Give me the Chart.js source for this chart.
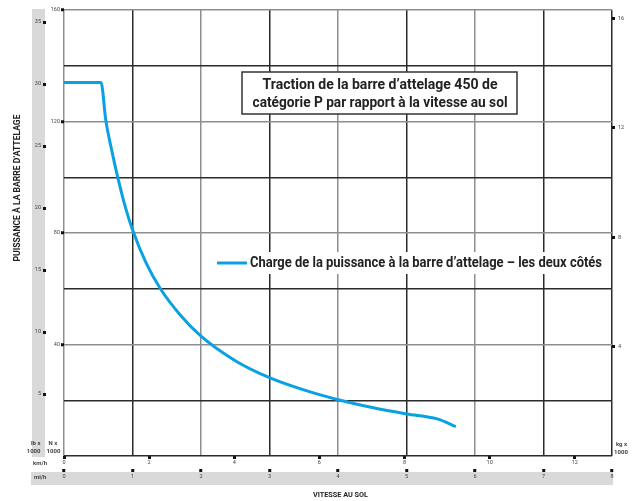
<!DOCTYPE html>
<html>
<head>
<meta charset="utf-8">
<script src="https://cdn.jsdelivr.net/npm/chart.js@4"></script>
<style>
  html, body { margin: 0; padding: 0; background: #fff; }
  canvas { display: block; }
</style>
</head>
<body>
<canvas id="drawbar" width="640" height="501"></canvas>
<script>
// drawbar pull vs ground speed
var speedMph = [0, 0.54, 0.61, 0.7, 0.79, 0.9, 1.0, 1.2, 1.41, 1.7, 2.0, 2.5, 3.0, 3.5, 4.0, 4.5, 5.0, 5.45, 5.72];
var pullKN   = [134, 134, 120.5, 109.3, 99.4, 88.9, 81.2, 69.2, 59.9, 50.5, 43, 34.2, 28.1, 23.7, 20.2, 17.4, 15.1, 13.3, 10.5];

// axis ticks
var mphTicks = [0, 1, 2, 3, 4, 5, 6, 7, 8];
var kmhTicks = [0, 2, 4, 6, 8, 10, 12];
var kNGrid   = [0, 20, 40, 60, 80, 100, 120, 140, 160];
var kNLabels = [40, 80, 120, 160];
var lbsTicks = [5, 10, 15, 20, 25, 30, 35];
var kgTicks  = [4, 8, 12, 16];

var seriesLabel = 'Charge de la puissance à la barre d’attelage – les deux côtés';
var titleLines = ['Traction de la barre d’attelage 450 de', 'catégorie P par rapport à la vitesse au sol'];
var yTitle = 'PUISSANCE À LA BARRE D’ATTELAGE';
var xTitle = 'VITESSE AU SOL';

var blue = '#0aa1e2';
var gridDark = '#2b2b2b', gridGrey = '#8e8e8e', band = '#d9d9d9';
var tickFont = { family: 'Roboto, sans-serif', size: 5.5 };
var tickColor = '#444';

function fixTicks(list) {
    return function (scale) {
        scale.ticks = list.map(function (v) { return { value: v }; });
    };
}
function fixSize(prop, px) {
    return function (scale) { scale[prop] = px; };
}
function sideTicks(pad) {
    return { font: tickFont, color: tickColor, padding: pad, autoSkip: false, maxRotation: 0 };
}
function sideGrid() {
    return { drawOnChartArea: false, tickLength: 3, tickWidth: 3, tickColor: '#111' };
}

// squeeze text into the width it takes in the reference (condensed face there)
function fitText(ctx, text, cx, cy, width, font, rotate) {
    ctx.save();
    ctx.font = font;
    var w = ctx.measureText(text).width;
    ctx.translate(cx, cy);
    if (rotate) ctx.rotate(-Math.PI / 2);
    ctx.scale(width / w, 1);
    ctx.textAlign = 'center';
    ctx.textBaseline = 'middle';
    ctx.fillText(text, 0, 0);
    ctx.restore();
}

var decor = {
    id: 'decor',
    beforeDraw: function (chart) {
        var c = chart.ctx, s = chart.scales, a = chart.chartArea;
        c.save();
        c.fillStyle = band;
        c.fillRect(s.lbs.left + 2, a.top - 1, s.lbs.width - 3, a.bottom - a.top + 2);
        c.fillRect(s.lbs.left + 1, s.x.top + 3, a.right - s.lbs.left, 13);
        c.restore();
    },
    afterDatasetsDraw: function (chart) {
        var c = chart.ctx;
        c.save();
        // title box
        c.fillStyle = '#fff';
        c.fillRect(242, 72, 275, 42);
        c.strokeStyle = '#333';
        c.lineWidth = 1.5;
        c.strokeRect(242, 72, 275, 42);
        c.fillStyle = '#222';
        fitText(c, titleLines[0], 380, 85, 235, 'bold 14px Roboto, sans-serif');
        fitText(c, titleLines[1], 380, 103, 255, 'bold 14px Roboto, sans-serif');
        // legend
        var ds = chart.data.datasets[0];
        c.fillStyle = '#fff';
        c.fillRect(213, 252, 394, 22);
        c.strokeStyle = ds.borderColor;
        c.lineWidth = 3;
        c.beginPath();
        c.moveTo(217, 263);
        c.lineTo(247, 263);
        c.stroke();
        c.fillStyle = '#222';
        fitText(c, ds.label, 426, 263, 352, 'bold 14px Roboto, sans-serif');
        c.restore();
    },
    afterDraw: function (chart) {
        var c = chart.ctx;
        c.save();
        c.fillStyle = '#222';
        fitText(c, yTitle, 17.5, 188, 147, 'bold 9px Roboto, sans-serif', true);
        fitText(c, xTitle, 340.5, 494.5, 55, 'bold 8px Roboto, sans-serif');
        c.fillStyle = '#444';
        c.font = 'bold 6px Roboto, sans-serif';
        c.textBaseline = 'middle';
        c.textAlign = 'right';
        c.fillText('lb x', 40.5, 443);
        c.fillText('1000', 40.5, 451);
        c.textAlign = 'center';
        c.fillText('N x', 53, 443);
        c.fillText('1000', 53.5, 451);
        c.fillText('kg x', 621.5, 444);
        c.fillText('1000', 621, 452);
        c.textAlign = 'left';
        c.fillText('km/h', 33, 463.5);
        c.fillText('mi/h', 34, 477.5);
        c.restore();
    }
};

var ctx = document.getElementById('drawbar').getContext('2d');
var drawbar = new Chart(ctx, {
    type: 'line',
    data: {
        datasets: [{
            label: seriesLabel,
            data: speedMph.map(function (x, i) { return { x: x, y: pullKN[i] }; }),
            xAxisID: 'x',
            yAxisID: 'y',
            borderColor: blue,
            borderWidth: 3,
            pointRadius: 0,
            fill: false,
            cubicInterpolationMode: 'monotone'
        }]
    },
    options: {
        responsive: false,
        animation: false,
        layout: { padding: { top: 10, left: 30, right: 0, bottom: 0 } },
        plugins: { legend: { display: false }, title: { display: false }, tooltip: { enabled: false } },
        scales: {
            x: {
                type: 'linear', position: 'bottom', weight: 1, min: 0, max: 8,
                afterBuildTicks: fixTicks(mphTicks),
                afterFit: fixSize('height', 32),
                border: { display: false },
                grid: {
                    color: function (g) {
                        if (!g.tick) return gridGrey;
                        return (g.tick.value % 2 === 1 || g.tick.value === 8) ? gridDark : gridGrey;
                    },
                    lineWidth: 1.5, tickLength: 3, tickWidth: 3, tickColor: '#111'
                },
                ticks: sideTicks(1.5)
            },
            kmh: {
                type: 'linear', position: 'bottom', weight: 0, min: 0, max: 8 * 1.609344,
                afterBuildTicks: fixTicks(kmhTicks),
                afterFit: fixSize('height', 13),
                border: { display: false },
                grid: sideGrid(),
                ticks: sideTicks(0.5)
            },
            y: {
                type: 'linear', position: 'left', weight: 0, min: 0, max: 160,
                afterBuildTicks: fixTicks(kNGrid),
                afterFit: fixSize('width', 18),
                border: { display: false },
                grid: {
                    color: function (g) {
                        if (!g.tick) return gridGrey;
                        return (g.tick.value % 40 === 0 && g.tick.value !== 0) ? gridGrey : gridDark;
                    },
                    lineWidth: 1.5, tickLength: 3, tickWidth: 3,
                    tickColor: function (g) {
                        return (g.tick && kNLabels.indexOf(g.tick.value) >= 0) ? '#111' : 'rgba(0,0,0,0)';
                    }
                },
                ticks: {
                    font: tickFont, color: tickColor, padding: 1, autoSkip: false,
                    callback: function (v) { return kNLabels.indexOf(v) >= 0 ? v : ''; }
                }
            },
            lbs: {
                type: 'linear', position: 'left', weight: 1, min: 0, max: 160 / 4.44822,
                afterBuildTicks: fixTicks(lbsTicks),
                afterFit: fixSize('width', 16),
                border: { display: false },
                grid: sideGrid(),
                ticks: sideTicks(2)
            },
            kg: {
                type: 'linear', position: 'right', min: 0, max: 160 / 9.80665,
                afterBuildTicks: fixTicks(kgTicks),
                afterFit: fixSize('width', 28),
                border: { display: false },
                grid: sideGrid(),
                ticks: sideTicks(3)
            }
        }
    },
    plugins: [decor]
});
</script>
</body>
</html>
